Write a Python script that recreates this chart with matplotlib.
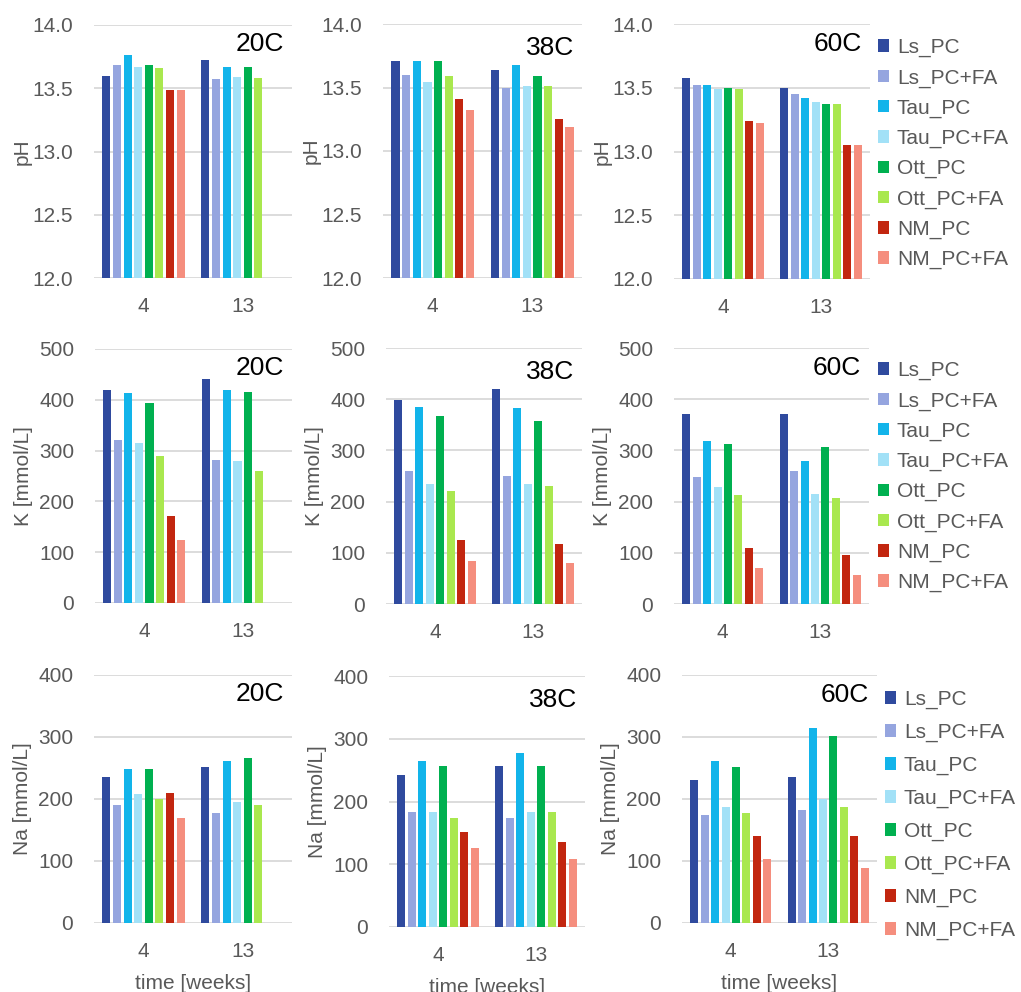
import numpy as np
import matplotlib
matplotlib.use("Agg")
import matplotlib.pyplot as plt
from matplotlib.patches import Patch

plt.rcParams['font.family'] = ['Liberation Sans', 'DejaVu Sans']

weeks = ["4", "13"]
series = ["Ls_PC", "Ls_PC+FA", "Tau_PC", "Tau_PC+FA", "Ott_PC", "Ott_PC+FA", "NM_PC", "NM_PC+FA"]
colors = ["#2F4A9E", "#95A5DF", "#12B4EA", "#A2E1F7", "#00B050", "#A9E84F", "#C2260F", "#F58E7E"]
temps = ["20C", "38C", "60C"]
nan = np.nan

# pH values: [series][week4, week13]
ph_20 = [[13.60, 13.72], [13.68, 13.57], [13.76, 13.67], [13.67, 13.59],
         [13.68, 13.67], [13.66, 13.58], [13.49, nan], [13.49, nan]]
ph_38 = [[13.71, 13.64], [13.60, 13.50], [13.71, 13.68], [13.54, 13.51],
         [13.71, 13.59], [13.59, 13.51], [13.41, 13.25], [13.32, 13.19]]
ph_60 = [[13.58, 13.50], [13.52, 13.45], [13.52, 13.42], [13.49, 13.39],
         [13.50, 13.37], [13.49, 13.37], [13.24, 13.05], [13.22, 13.05]]

# K [mmol/L]
k_20 = [[419, 440], [320, 281], [414, 419], [314, 280],
        [394, 416], [289, 259], [172, nan], [125, nan]]
k_38 = [[399, 420], [260, 250], [384, 382], [234, 234],
        [367, 357], [221, 230], [125, 118], [84, 80]]
k_60 = [[371, 371], [249, 259], [318, 280], [229, 214],
        [312, 306], [212, 208], [109, 95], [71, 56]]

# Na [mmol/L]
na_20 = [[235, 252], [191, 178], [249, 261], [208, 195],
         [249, 266], [200, 191], [209, nan], [170, nan]]
na_38 = [[243, 256], [183, 174], [264, 278], [183, 183],
         [256, 256], [174, 183], [151, 135], [126, 108]]
na_60 = [[230, 235], [175, 183], [262, 314], [187, 200],
         [251, 301], [178, 187], [140, 140], [104, 88]]

rows = [
    dict(data=[ph_20, ph_38, ph_60], ylabel="pH", ylim=(12.0, 14.0), ticks=[12.0, 12.5, 13.0, 13.5, 14.0], fmt="{:.1f}"),
    dict(data=[k_20, k_38, k_60], ylabel="K [mmol/L]", ylim=(0, 500), ticks=[0, 100, 200, 300, 400, 500], fmt="{:.0f}"),
    dict(data=[na_20, na_38, na_60], ylabel="Na [mmol/L]", ylim=(0, 400), ticks=[0, 100, 200, 300, 400], fmt="{:.0f}"),
]

W, H = 1021, 992
fig = plt.figure(figsize=(W / 100, H / 100), dpi=100)

# axes boxes in pixels: (left, top, right, bottom)
boxes = [
    [(94, 25, 292, 278), (383, 24, 582, 278), (674, 24, 870, 279)],
    [(95, 349, 292, 603), (386, 348, 582, 604), (674, 348, 869, 604)],
    [(94, 675, 292, 923), (389, 676, 585, 927), (682, 675, 877, 923)],
]
legend_anchor = [(878, 38), (878, 361), (885, 690)]
legend_spacing = [0.53, 0.53, 0.66]
title_y = [0.925, 0.905, 0.92]

gray = "#595959"
grid_c = "#D9D9D9"
slot = 0.107
bw = 0.082

for r, row in enumerate(rows):
    for c in range(3):
        l, t, rr, b = boxes[r][c]
        ax = fig.add_axes([l / W, 1 - b / H, (rr - l) / W, (b - t) / H])
        data = row["data"][c]
        xc = np.arange(len(weeks))
        for i, (name, col) in enumerate(zip(series, colors)):
            vals = np.array(data[i], dtype=float)
            off = (i - 3.5) * slot
            bottom = row["ylim"][0]
            ax.bar(xc + off, vals - bottom, width=bw, bottom=bottom, color=col,
                   label=name, zorder=3)
        ax.set_xlim(-0.5, 1.5)
        ax.set_ylim(*row["ylim"])
        ax.set_yticks(row["ticks"])
        ax.set_yticklabels([row["fmt"].format(v) for v in row["ticks"]])
        ax.set_xticks(xc)
        ax.set_xticklabels(weeks)
        for s in ax.spines.values():
            s.set_visible(False)
        ax.grid(axis="y", color=grid_c, linewidth=1.3, zorder=0)
        ax.tick_params(axis="both", length=0, labelsize=15, colors=gray)
        ax.tick_params(axis="y", pad=15)
        ax.tick_params(axis="x", pad=14)
        ax.set_ylabel(row["ylabel"], fontsize=15, color=gray)
        ax.yaxis.set_label_coords(-62 / (rr - l), 0.5)
        ax.text(0.96, title_y[c], temps[c], transform=ax.transAxes, ha="right",
                va="center", fontsize=19, color="black")
        if r == 2:
            ax.set_xlabel("time [weeks]", fontsize=15, color=gray, labelpad=9)
        if c == 2:
            lx, ly = legend_anchor[r]
            handles = [Patch(facecolor=col, edgecolor="none") for col in colors]
            fig.legend(handles, series, loc="upper left",
                       bbox_to_anchor=(lx / W, 1 - ly / H), frameon=False,
                       fontsize=15, labelcolor=gray, handlelength=0.55,
                       handleheight=0.55, handletextpad=0.35,
                       labelspacing=legend_spacing[r], borderpad=0, borderaxespad=0)

fig.savefig("out.png", dpi=100)
